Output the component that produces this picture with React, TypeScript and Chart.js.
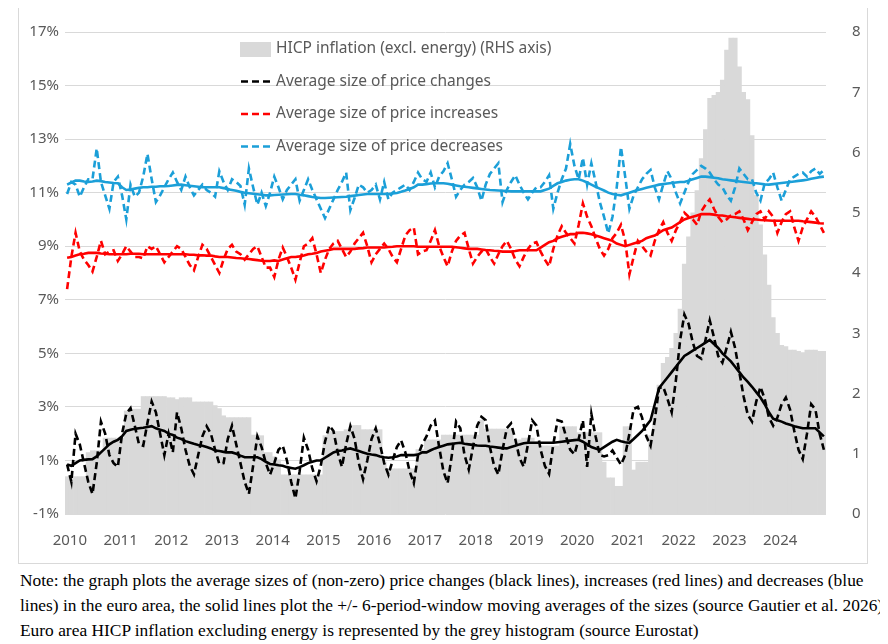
import React, { useEffect, useRef } from "react";
import { Chart, registerables } from "chart.js";
Chart.register(...registerables);

const years = [2010, 2011, 2012, 2013, 2014, 2015, 2016, 2017, 2018, 2019, 2020, 2021, 2022, 2023, 2024];
const months = years.flatMap((y) => Array.from({ length: 12 }, (_, i) => `${y}-${String(i + 1).padStart(2, "0")}`));

const hicpExEnergy = [
  .62,.62,.62,.62,.62,1.02,1.05,1.05,1.05,1.26,1.26,1.26,
  1.26,1.26,1.71,1.74,1.74,1.74,1.95,1.95,1.95,1.95,1.95,1.95,
  1.93,1.93,1.9,1.93,1.93,1.93,1.86,1.86,1.86,1.86,1.86,1.8,
  1.75,1.63,1.6,1.6,1.6,1.6,1.6,1.6,1.31,1.31,1.3,1.02,
  1.02,.95,.9,.65,.65,.65,.65,.65,.65,.65,.65,.65,
  .65,1.3,1.37,1.37,1.37,1.37,1.4,1.4,1.47,1.47,1.4,1.4,
  1.4,1.4,1.4,.86,.75,.75,.75,.75,.75,.75,.75,1.07,
  1.07,1.23,1.23,1.23,1.23,1.31,1.31,1.31,1.31,1.31,1.31,1.31,
  1.31,1.31,1.56,1.41,1.41,1.41,1.41,1.41,1.41,1.41,1.23,1.23,
  1.26,1.26,1.26,1.2,1.13,1.13,1.13,1.13,1.13,1.45,1.45,1.45,
  1.45,1.35,1.35,1.35,1.35,1.35,1.35,.86,.6,.6,.46,.46,
  1.45,1.45,.73,.86,.86,.86,1.3,1.7,2.14,2.5,2.6,2.75,
  3.0,3.4,4.15,4.6,5.0,5.37,5.9,6.38,6.9,6.95,7.0,7.2,
  7.7,7.9,7.9,7.42,7.0,6.88,6.28,5.29,4.8,4.3,3.8,3.26,
  3.0,2.8,2.78,2.72,2.72,2.7,2.68,2.72,2.72,2.72,2.7,2.7,
];

const changesSize = [
  .85,.2,2.0,1.6,.9,.2,-.25,.9,2.45,2.0,1.2,.9,
  .76,2.0,2.75,2.95,2.3,1.6,1.55,2.4,3.2,2.8,2.0,1.2,
  2.0,1.3,2.8,2.2,1.4,.8,.48,1.2,1.9,2.28,2.0,1.4,
  .87,.9,1.8,2.3,1.6,.9,.2,-.25,.8,1.9,1.5,.9,
  .47,.9,1.4,1.55,1.0,.2,-.42,.6,1.85,1.4,.7,.22,
  .8,1.7,2.3,2.1,1.3,.76,1.6,2.28,1.8,.9,.3,1.0,
  1.8,2.2,1.6,.9,.47,1.0,1.5,1.75,1.3,.6,.15,1.2,
  1.6,1.9,2.3,2.49,1.5,.6,.15,1.2,2.45,2.2,1.2,.66,
  1.5,2.3,2.63,2.5,1.5,.8,.47,1.4,2.2,2.38,1.8,1.1,
  .76,1.6,2.5,2.3,1.4,.8,.5,1.6,2.5,2.45,1.9,1.4,
  1.23,1.8,2.5,.76,2.74,1.9,1.2,1.15,1.2,1.37,1.1,.84,
  1.2,2.0,2.92,3.0,2.6,1.9,1.55,2.5,3.7,3.75,3.3,2.8,
  4.0,5.5,6.45,6.1,5.4,4.9,4.8,5.5,6.23,5.6,4.9,4.65,
  5.2,5.8,5.2,4.3,3.4,2.7,2.45,3.2,3.75,3.3,2.6,2.3,
  2.6,3.1,3.35,2.9,2.1,1.4,1.05,2.0,3.1,2.9,2.0,1.4,
];

const changesMA = [
  .85,.8,.9,1.0,1.02,1.04,1.05,1.15,1.3,1.45,1.6,1.7,
  1.77,1.9,2.1,2.15,2.18,2.2,2.22,2.25,2.28,2.2,2.15,2.1,
  2.0,1.95,1.85,1.8,1.72,1.67,1.62,1.58,1.55,1.5,1.45,1.37,
  1.35,1.32,1.3,1.3,1.25,1.18,1.12,1.12,1.12,1.12,1.05,.95,
  .87,.85,.82,.8,.75,.72,.69,.75,.82,.9,.95,1.0,
  1.0,1.1,1.2,1.3,1.35,1.37,1.42,1.45,1.4,1.35,1.3,1.25,
  1.22,1.2,1.15,1.12,1.1,1.12,1.15,1.2,1.2,1.2,1.2,1.22,
  1.3,1.3,1.38,1.45,1.5,1.55,1.6,1.62,1.64,1.66,1.62,1.6,
  1.58,1.56,1.55,1.55,1.52,1.5,1.48,1.46,1.45,1.5,1.55,1.6,
  1.64,1.66,1.66,1.66,1.66,1.66,1.66,1.66,1.68,1.7,1.72,1.74,
  1.76,1.77,1.7,1.6,1.5,1.45,1.4,1.5,1.6,1.7,1.77,1.72,
  1.68,1.66,1.8,1.95,2.1,2.3,2.5,3.1,3.7,3.9,4.1,4.3,
  4.5,4.7,4.9,5.0,5.1,5.2,5.3,5.4,5.5,5.35,5.2,5.0,
  4.85,4.7,4.5,4.3,4.1,3.93,3.75,3.55,3.35,3.1,2.8,2.56,
  2.5,2.45,2.38,2.33,2.28,2.24,2.2,2.2,2.2,2.2,2.05,1.9,
];

const increasesSize = [
  7.4,8.6,9.5,8.8,8.5,8.3,8.05,8.6,9.2,8.7,8.8,8.85,
  8.45,8.7,9.0,8.8,8.6,8.6,8.55,9.0,8.9,9.0,8.7,8.4,
  8.6,8.8,9.0,8.9,8.6,8.3,8.1,8.6,9.05,8.9,8.6,8.3,
  8.0,8.5,8.9,9.05,8.8,8.7,8.5,8.7,8.9,9.0,8.6,8.2,
  8.2,7.85,8.5,8.95,8.6,8.2,7.75,8.4,9.0,9.1,9.3,8.7,
  8.0,8.5,8.9,9.1,9.2,8.9,8.6,8.8,9.1,9.3,9.5,9.0,
  8.4,8.7,8.9,9.1,8.9,8.6,8.4,8.9,9.4,9.6,9.7,8.7,
  8.8,8.85,9.2,9.6,9.0,8.6,8.25,8.8,9.2,9.4,9.5,8.9,
  8.35,8.6,8.8,8.9,8.6,8.35,8.7,9.0,9.2,8.9,8.5,8.25,
  8.6,8.9,9.1,9.15,8.8,8.5,8.25,8.9,9.4,9.75,9.5,9.3,
  9.1,9.8,10.6,10.1,9.75,9.3,8.9,8.65,8.9,9.3,9.5,9.8,
  9.2,7.95,8.6,9.2,9.0,8.8,8.65,9.2,9.6,9.9,9.5,9.2,
  9.6,9.9,10.25,10.1,10.0,9.8,10.3,10.55,10.75,10.4,10.1,9.9,
  10.0,10.15,10.2,10.3,10.0,9.6,9.9,10.2,10.3,10.0,10.3,10.1,
  9.5,9.9,10.2,10.3,9.7,9.2,9.7,10.0,10.3,10.1,9.8,9.5,
];

const increasesMA = [
  8.57,8.6,8.65,8.7,8.72,8.75,8.75,8.75,8.73,8.72,8.7,8.7,
  8.7,8.7,8.7,8.72,8.72,8.72,8.7,8.7,8.7,8.7,8.7,8.7,
  8.7,8.7,8.7,8.7,8.7,8.68,8.68,8.66,8.66,8.65,8.65,8.62,
  8.6,8.6,8.6,8.58,8.56,8.55,8.53,8.52,8.5,8.48,8.46,8.45,
  8.45,8.47,8.45,8.5,8.55,8.6,8.6,8.62,8.65,8.7,8.72,8.75,
  8.8,8.83,8.86,8.9,8.9,8.9,8.9,8.9,8.9,8.92,8.93,8.95,
  8.95,8.95,8.95,8.95,8.97,8.98,9.0,9.0,9.0,9.0,9.0,8.98,
  8.98,8.98,8.98,8.98,8.98,8.98,8.98,8.98,8.96,8.94,8.92,8.9,
  8.9,8.9,8.88,8.86,8.85,8.83,8.82,8.8,8.8,8.8,8.82,8.85,
  8.85,8.85,8.85,8.85,8.95,9.05,9.15,9.2,9.3,9.35,9.4,9.45,
  9.45,9.5,9.5,9.48,9.45,9.4,9.35,9.3,9.25,9.2,9.1,9.05,
  9.0,9.05,9.1,9.15,9.2,9.3,9.35,9.4,9.5,9.6,9.65,9.7,
  9.8,9.9,10.0,10.05,10.1,10.15,10.2,10.2,10.2,10.18,10.15,10.15,
  10.12,10.1,10.08,10.06,10.04,10.02,10.0,10.0,9.98,9.97,9.96,9.95,
  9.95,9.95,9.95,9.95,9.95,9.95,9.93,9.92,9.9,9.88,9.86,9.85,
];

const decreasesSize = [
  10.95,11.4,11.3,10.85,11.2,11.5,11.5,12.65,11.4,10.9,10.4,11.4,
  11.6,10.9,10.0,11.3,10.85,11.0,11.6,12.45,11.5,10.65,10.9,11.2,
  11.5,11.75,11.4,11.1,11.6,11.2,10.9,11.1,11.3,11.1,11.0,10.85,
  11.8,11.4,11.1,11.5,11.4,11.25,10.55,11.9,11.2,10.55,11.0,10.5,
  11.0,11.6,11.2,10.75,11.1,11.3,11.5,10.7,11.1,11.5,11.1,10.75,
  10.4,10.05,10.4,10.75,11.1,11.4,11.75,10.35,10.8,11.3,11.2,11.0,
  11.1,11.3,10.75,11.4,10.75,11.0,11.1,11.2,11.3,11.1,11.4,11.75,
  11.5,11.4,11.75,11.2,11.6,11.8,12.1,11.5,10.85,11.1,11.3,11.4,
  11.55,11.2,10.7,11.3,11.7,11.9,12.1,10.65,11.1,11.4,11.65,11.3,
  11.0,10.75,11.0,11.2,11.2,11.4,11.65,10.4,11.0,11.5,11.9,12.82,
  12.0,11.5,12.3,11.3,12.1,11.4,10.65,10.1,9.48,10.1,11.2,12.7,
  11.6,10.4,10.9,11.2,11.5,11.7,11.85,11.2,10.75,11.3,11.8,11.5,
  11.0,10.6,11.0,11.4,11.7,11.85,12.0,11.9,11.75,11.5,11.3,11.2,
  10.9,10.7,11.2,11.9,11.7,11.5,11.5,11.0,10.7,11.35,11.5,11.75,
  11.2,10.7,11.1,11.5,11.6,11.7,11.75,11.6,11.8,11.9,11.7,11.85,
];

const decreasesMA = [
  11.3,11.38,11.45,11.45,11.42,11.4,11.42,11.45,11.43,11.4,11.38,11.36,
  11.35,11.2,11.1,11.12,11.15,11.18,11.2,11.2,11.22,11.22,11.24,11.24,
  11.25,11.27,11.29,11.3,11.28,11.26,11.24,11.22,11.2,11.2,11.2,11.2,
  11.2,11.17,11.13,11.1,11.07,11.03,11.0,10.98,10.96,10.94,10.92,10.9,
  10.9,10.91,10.92,10.93,10.94,10.95,10.95,10.92,10.9,10.87,10.84,10.82,
  10.8,10.8,10.81,10.82,10.83,10.84,10.85,10.87,10.89,10.91,10.93,10.95,
  10.95,10.95,10.95,10.95,10.95,10.97,10.99,11.03,11.08,11.14,11.2,11.3,
  11.3,11.32,11.34,11.35,11.35,11.35,11.33,11.3,11.27,11.24,11.22,11.2,
  11.18,11.16,11.14,11.12,11.1,11.09,11.08,11.07,11.06,11.05,11.05,11.05,
  11.05,11.05,11.05,11.05,11.05,11.1,11.15,11.25,11.35,11.4,11.45,11.48,
  11.5,11.5,11.45,11.38,11.3,11.22,11.15,11.08,11.0,10.95,10.92,10.9,
  10.95,11.0,11.05,11.1,11.14,11.18,11.22,11.26,11.3,11.32,11.34,11.36,
  11.38,11.4,11.4,11.45,11.5,11.55,11.6,11.6,11.58,11.56,11.54,11.5,
  11.48,11.46,11.44,11.42,11.4,11.38,11.36,11.35,11.33,11.31,11.3,11.32,
  11.34,11.36,11.38,11.4,11.42,11.44,11.46,11.48,11.52,11.55,11.58,11.6,
];

const legendItems = [
  { label: "HICP inflation (excl. energy) (RHS axis)", kind: "box", color: "#d9d9d9" },
  { label: "Average size of price changes", kind: "dash", color: "#000000" },
  { label: "Average size of price increases", kind: "dash", color: "#ff0000" },
  { label: "Average size of price decreases", kind: "dash", color: "#1b9fd8" },
];

const FONT = "'Noto Sans', sans-serif";
const BLUE = "#1b9fd8";
const DASH = [7, 4];

const legendPlugin = {
  id: "insideLegend",
  afterDraw(chart: any) {
    const ctx = chart.ctx;
    const left = chart.chartArea.left + 176;
    const top = chart.chartArea.top + 17;
    ctx.save();
    ctx.font = `15.5px ${FONT}`;
    ctx.textBaseline = "middle";
    legendItems.forEach((it, i) => {
      const y = top + i * 32.5;
      if (it.kind === "box") {
        ctx.fillStyle = it.color;
        ctx.fillRect(left - 1, y - 7, 31, 15);
      } else {
        ctx.strokeStyle = it.color;
        ctx.lineWidth = 2.6;
        ctx.setLineDash(DASH);
        ctx.beginPath();
        ctx.moveTo(left, y);
        ctx.lineTo(left + 31, y);
        ctx.stroke();
        ctx.setLineDash([]);
      }
      ctx.fillStyle = "#595959";
      ctx.fillText(it.label, left + 35, y);
    });
    ctx.restore();
  },
};

export default function App() {
  const ref = useRef<HTMLCanvasElement>(null);
  useEffect(() => {
    const chart = new Chart(ref.current!, {
      type: "bar",
      data: {
        labels: months,
        datasets: [
          { type: "line", data: changesMA, borderColor: "#000", borderWidth: 2.6, pointRadius: 0, yAxisID: "y", order: 1 },
          { type: "line", data: changesSize, borderColor: "#000", borderWidth: 2.6, borderDash: DASH, pointRadius: 0, yAxisID: "y", order: 2 },
          { type: "line", data: increasesMA, borderColor: "#ff0000", borderWidth: 2.6, pointRadius: 0, yAxisID: "y", order: 1 },
          { type: "line", data: increasesSize, borderColor: "#ff0000", borderWidth: 2.6, borderDash: DASH, pointRadius: 0, yAxisID: "y", order: 2 },
          { type: "line", data: decreasesMA, borderColor: BLUE, borderWidth: 2.6, pointRadius: 0, yAxisID: "y", order: 1 },
          { type: "line", data: decreasesSize, borderColor: BLUE, borderWidth: 2.6, borderDash: DASH, pointRadius: 0, yAxisID: "y", order: 2 },
          { type: "bar", data: hicpExEnergy, backgroundColor: "#d9d9d9", barPercentage: 1, categoryPercentage: 1, borderWidth: 0, yAxisID: "y2", xAxisID: "x", order: 5 },
        ] as any,
      },
      options: {
        animation: false,
        responsive: false,
        layout: { padding: { top: -7, left: 0, right: 0, bottom: 0 } },
        plugins: { legend: { display: false }, tooltip: { enabled: false } },
        scales: {
          x: { type: "category", display: false, offset: true },
          x2: {
            type: "linear",
            position: "bottom",
            min: 2010.405,
            max: 2024.404,
            grid: { display: false },
            border: { display: false },
            afterBuildTicks: (s: any) => { s.ticks = years.map((v) => ({ value: v })); },
            afterFit: (s: any) => { s.height = 47; },
            ticks: { color: "#595959", font: { family: FONT, size: 15 }, padding: 10, autoSkip: false, maxRotation: 0, callback: (v: any) => String(v) },
          },
          y: {
            position: "left",
            min: -1,
            max: 17,
            grid: { color: "#d9d9d9", drawTicks: false, lineWidth: 1 },
            border: { display: false },
            afterBuildTicks: (s: any) => { s.ticks = [-1, 1, 3, 5, 7, 9, 11, 13, 15, 17].map((v) => ({ value: v })); },
            afterFit: (s: any) => { s.width = 46; },
            ticks: { color: "#595959", font: { family: FONT, size: 15 }, padding: 6, callback: (v: any) => `${v}%` },
          },
          y2: {
            position: "right",
            min: 0,
            max: 8,
            grid: { display: false },
            border: { display: false },
            afterFit: (s: any) => { s.width = 41; },
            ticks: { stepSize: 1, color: "#595959", font: { family: FONT, size: 15 }, padding: 18 },
          },
        } as any,
      },
      plugins: [legendPlugin],
    });
    return () => chart.destroy();
  }, []);

  return (
    <div style={{ margin: "-4px 0 0 10px", width: 868 }}>
      <div style={{ border: "1px solid #d9d9d9", width: 848, height: 558 }}>
        <canvas ref={ref} width={848} height={556} style={{ display: "block", width: 848, height: 556 }} />
      </div>
      <div style={{ fontFamily: "'Liberation Serif', serif", fontSize: 17.4, lineHeight: "25px", color: "#000", marginTop: 4, marginLeft: 2, whiteSpace: "nowrap" }}>
        Note: the graph plots the average sizes of (non-zero) price changes (black lines), increases (red lines) and decreases (blue
        <br />
        lines) in the euro area, the solid lines plot the +/- 6-period-window moving averages of the sizes (source Gautier et al. 2026).
        <br />
        Euro area HICP inflation excluding energy is represented by the grey histogram (source Eurostat)
      </div>
    </div>
  );
}
